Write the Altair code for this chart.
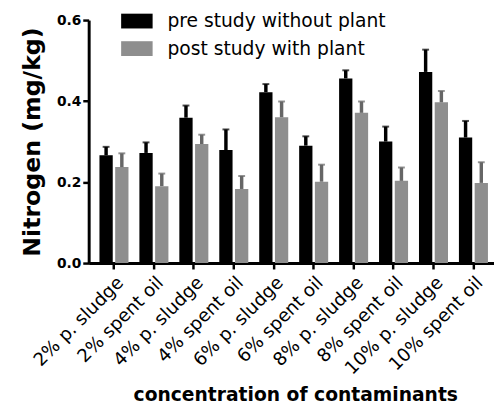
import altair as alt
import pandas as pd

categories = ["2% p. sludge", "2% spent oil", "4% p. sludge", "4% spent oil",
              "6% p. sludge", "6% spent oil", "8% p. sludge", "8% spent oil",
              "10% p. sludge", "10% spent oil"]
series = ["pre study without plant", "post study with plant"]
pre_mean = [0.266, 0.272, 0.359, 0.279, 0.422, 0.290, 0.456, 0.300, 0.472, 0.310]
pre_sd = [0.021, 0.026, 0.030, 0.051, 0.020, 0.023, 0.020, 0.037, 0.055, 0.041]
post_mean = [0.237, 0.190, 0.294, 0.183, 0.360, 0.201, 0.371, 0.203, 0.397, 0.198]
post_sd = [0.034, 0.031, 0.023, 0.032, 0.039, 0.042, 0.028, 0.033, 0.028, 0.051]
y_ticks = [0.0, 0.2, 0.4, 0.6]

rows = []
for i, c in enumerate(categories):
    rows.append({"cat": c, "series": series[0], "mean": pre_mean[i], "top": pre_mean[i] + pre_sd[i]})
    rows.append({"cat": c, "series": series[1], "mean": post_mean[i], "top": post_mean[i] + post_sd[i]})
df = pd.DataFrame(rows)

FONT = "DejaVu Sans"

x_enc = alt.X("cat:N", sort=categories,
              scale=alt.Scale(paddingInner=0, paddingOuter=0.074, align=0.9),
              axis=alt.Axis(title="concentration of contaminants", labelAngle=-45,
                            labelFont=FONT, labelFontSize=18.5, labelColor="black",
                            labelPadding=4, labelLimit=400,
                            titleFont=FONT, titleFontSize=19, titleFontWeight="bold",
                            titleX=210, titleAlign="center",
                            titleY=125, titleBaseline="top", titleColor="black",
                            domainColor="black", domainWidth=3,
                            tickColor="black", tickWidth=2.5, tickSize=6))
xo_enc = alt.XOffset("series:N", sort=series,
                     scale=alt.Scale(paddingInner=0.156, paddingOuter=0.347))
y_enc = alt.Y("mean:Q", scale=alt.Scale(domain=[0, 0.6], nice=False),
              axis=alt.Axis(title="Nitrogen (mg/kg)", values=y_ticks, format=".1f",
                            grid=False, labelFont=FONT, labelFontSize=14,
                            labelFontWeight="bold", labelColor="black", labelPadding=2,
                            titleFont=FONT, titleFontSize=24, titleFontWeight="bold",
                            titleColor="black", titlePadding=12,
                            domainColor="black", domainWidth=3,
                            tickColor="black", tickWidth=2.5, tickSize=6))

bars = alt.Chart(df).mark_bar().encode(
    x=x_enc, xOffset=xo_enc, y=y_enc,
    color=alt.Color("series:N", sort=series,
                    scale=alt.Scale(domain=series, range=["#000000", "#8e8e8e"]),
                    legend=alt.Legend(title=None, orient="none", legendX=33, legendY=-15,
                                      labelFont=FONT, labelFontSize=19, labelColor="black",
                                      labelLimit=400,
                                      symbolType="M-1,-0.47H1V0.47H-1Z", symbolSize=1024,
                                      symbolStrokeWidth=0, labelOffset=15,
                                      rowPadding=2, padding=0)),
)

err_color = alt.condition(alt.datum.series == series[0], alt.value("#000000"), alt.value("#666666"))

rules = alt.Chart(df).mark_rule(strokeWidth=3.5).encode(
    x=alt.X("cat:N", sort=categories), xOffset=alt.XOffset("series:N", sort=series),
    y="mean:Q", y2="top:Q", color=err_color,
)
caps = alt.Chart(df).mark_tick(thickness=2, size=7).encode(
    x=alt.X("cat:N", sort=categories), xOffset=alt.XOffset("series:N", sort=series),
    y="top:Q", color=err_color,
)

chart = alt.layer(bars, rules, caps).properties(
    width=412, height=247,
    padding={"left": 82, "top": 9, "right": 0, "bottom": 143},
    autosize=alt.AutoSizeParams(type="none"),
).configure_view(stroke=None)

chart.save("out.html", embed_options={"renderer": "svg", "actions": False})
